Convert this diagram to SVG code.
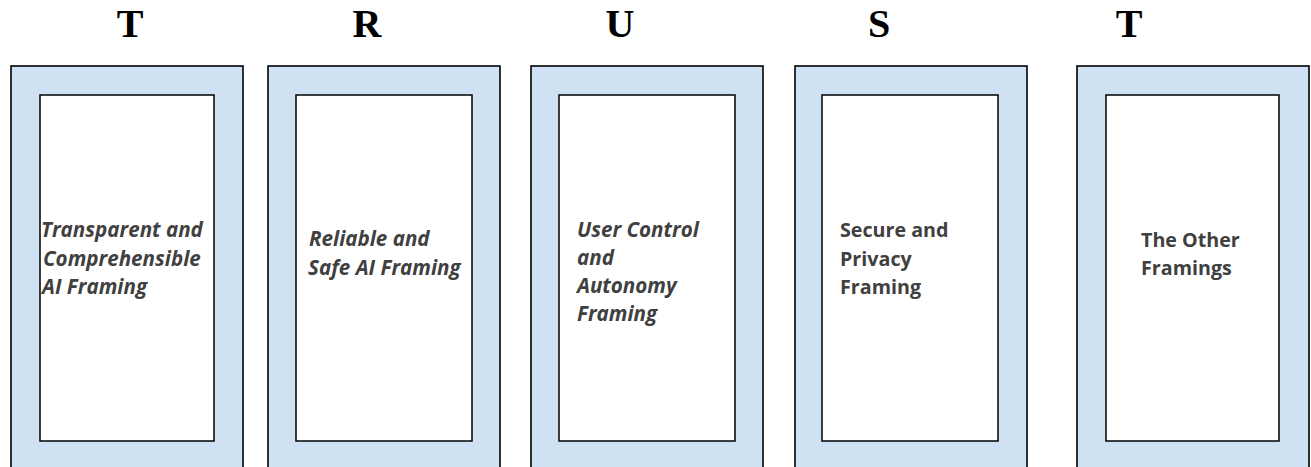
<svg xmlns="http://www.w3.org/2000/svg" width="1311" height="467" viewBox="0 0 1311 467">
  <style>
    .frame { fill: #cfe2f3; stroke: #000; stroke-width: 1.6; }
    .panel { fill: #fff; stroke: #000; stroke-width: 1.5; }
    .letter { font-family: "Liberation Serif", "Times New Roman", serif; font-weight: bold; font-size: 40px; fill: #000; text-anchor: middle; }
    .label { font-family: "Open Sans", "Noto Sans", sans-serif; font-weight: bold; font-size: 19.7px; fill: #404040; }
    .it { font-style: italic; font-size: 20.6px; }
  </style>

  <!-- column headings -->
  <g id="headings">
    <text class="letter" x="130" y="37">T</text>
    <text class="letter" x="367" y="37">R</text>
    <text class="letter" x="620" y="37">U</text>
    <text class="letter" x="879" y="37">S</text>
    <text class="letter" x="1129" y="37">T</text>
  </g>

  <g id="transparent">
    <rect class="frame" x="11" y="66" width="232" height="410"/>
    <rect class="panel" x="40" y="95" width="174" height="346"/>
    <text class="label it">
      <tspan x="41" y="237">Transparent and</tspan>
      <tspan x="43" y="266">Comprehensible</tspan>
      <tspan x="42" y="294">AI Framing</tspan>
    </text>
  </g>

  <g id="reliable">
    <rect class="frame" x="268" y="66" width="232" height="410"/>
    <rect class="panel" x="296" y="95" width="176" height="346"/>
    <text class="label it">
      <tspan x="309" y="246">Reliable and</tspan>
      <tspan x="308" y="275">Safe AI Framing</tspan>
    </text>
  </g>

  <g id="user-control">
    <rect class="frame" x="531" y="66" width="232" height="410"/>
    <rect class="panel" x="559" y="95" width="176" height="346"/>
    <text class="label it">
      <tspan x="577" y="237">User Control</tspan>
      <tspan x="577" y="265">and</tspan>
      <tspan x="577" y="293">Autonomy</tspan>
      <tspan x="577" y="321">Framing</tspan>
    </text>
  </g>

  <g id="secure">
    <rect class="frame" x="795" y="66" width="232" height="410"/>
    <rect class="panel" x="822" y="95" width="176" height="346"/>
    <text class="label">
      <tspan x="840" y="237">Secure and</tspan>
      <tspan x="840" y="266">Privacy</tspan>
      <tspan x="840" y="294">Framing</tspan>
    </text>
  </g>

  <g id="other">
    <rect class="frame" x="1077" y="66" width="232" height="410"/>
    <rect class="panel" x="1106" y="95" width="173" height="346"/>
    <text class="label">
      <tspan x="1141" y="247">The Other</tspan>
      <tspan x="1141" y="275">Framings</tspan>
    </text>
  </g>

  <g id="connectors"/>
</svg>
